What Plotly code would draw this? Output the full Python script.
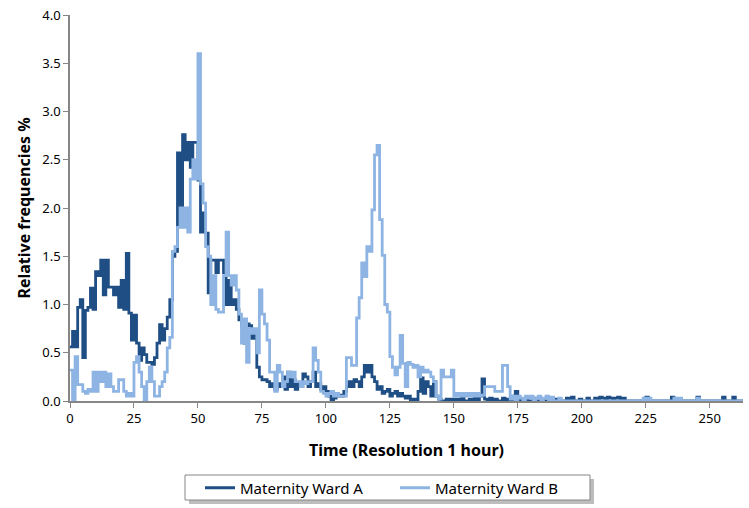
import plotly.graph_objects as go

hours = list(range(264))

ward_a = [
    0.56, 0.72, 0.56, 0.97, 1.05, 0.45, 0.94, 0.97, 1.17, 0.95,
    1.34, 1.30, 1.46, 1.10, 1.46, 1.18, 1.18, 1.10, 1.18, 0.97,
    1.25, 0.95, 1.53, 0.91, 0.63, 0.89, 0.60, 0.42, 0.55, 0.48,
    0.40, 0.40, 0.38, 0.45, 0.60, 0.79, 0.63, 0.75, 0.87, 1.05,
    1.50, 1.55, 2.57, 1.84, 2.76, 2.50, 2.68, 2.42, 2.68, 2.68,
    2.29, 1.75, 1.95, 1.74, 1.12, 1.46, 1.46, 1.33, 1.46, 1.46,
    1.33, 1.00, 1.25, 1.00, 1.05, 0.95, 0.84, 0.78, 0.60, 0.80,
    0.78, 0.65, 0.70, 0.35, 0.25, 0.22, 0.22, 0.20, 0.15, 0.18,
    0.12, 0.18, 0.15, 0.25, 0.12, 0.30, 0.15, 0.22, 0.12, 0.18,
    0.15, 0.28, 0.25, 0.15, 0.20, 0.30, 0.15, 0.18, 0.12, 0.15,
    0.10, 0.05, 0.00, 0.03, 0.05, 0.06, 0.05, 0.10, 0.15, 0.20,
    0.15, 0.22, 0.20, 0.15, 0.25, 0.37, 0.30, 0.37, 0.25, 0.20,
    0.12, 0.15, 0.08, 0.10, 0.12, 0.05, 0.08, 0.10, 0.05, 0.08,
    0.05, 0.03, 0.05, 0.00, 0.02, 0.00, 0.10, 0.24, 0.08, 0.20,
    0.15, 0.05, 0.20, 0.05, 0.02, 0.00, 0.00, 0.02, 0.00, 0.02,
    0.00, 0.02, 0.00, 0.03, 0.00, 0.00, 0.02, 0.00, 0.03, 0.00,
    0.05, 0.23, 0.02, 0.00, 0.03, 0.00, 0.02, 0.00, 0.00, 0.03,
    0.00, 0.02, 0.00, 0.05, 0.10, 0.02, 0.00, 0.00, 0.02, 0.00,
    0.00, 0.03, 0.00, 0.00, 0.02, 0.00, 0.00, 0.03, 0.00, 0.00,
    0.02, 0.00, 0.00, 0.00, 0.03, 0.00, 0.04, 0.00, 0.00, 0.02,
    0.00, 0.00, 0.03, 0.00, 0.00, 0.03, 0.00, 0.04, 0.03, 0.00,
    0.04, 0.03, 0.00, 0.03, 0.04, 0.00, 0.03, 0.00, 0.00, 0.00,
    0.00, 0.00, 0.00, 0.00, 0.00, 0.04, 0.00, 0.00, 0.00, 0.00,
    0.00, 0.00, 0.00, 0.00, 0.00, 0.04, 0.00, 0.00, 0.00, 0.00,
    0.00, 0.00, 0.00, 0.00, 0.00, 0.04, 0.00, 0.00, 0.00, 0.00,
    0.00, 0.00, 0.00, 0.00, 0.00, 0.04, 0.00, 0.00, 0.00, 0.04,
    0.00, 0.00, 0.00, 0.00,
]

ward_b = [
    0.32, 0.00, 0.46, 0.17, 0.17, 0.10, 0.08, 0.12, 0.10, 0.30,
    0.10, 0.30, 0.20, 0.30, 0.15, 0.28, 0.15, 0.10, 0.10, 0.22,
    0.22, 0.10, 0.05, 0.08, 0.05, 0.40, 0.46, 0.30, 0.15, 0.00,
    0.20, 0.35, 0.20, 0.05, 0.05, 0.15, 0.20, 0.30, 0.55, 0.66,
    1.55, 1.60, 1.80, 2.00, 1.80, 2.00, 1.75, 2.30, 2.50, 2.30,
    3.60, 2.25, 2.05, 1.60, 1.50, 1.00, 1.30, 0.95, 0.92, 0.92,
    1.30, 1.75, 1.30, 1.20, 1.30, 1.15, 0.90, 0.60, 0.85, 0.40,
    0.75, 0.70, 0.75, 0.50, 1.15, 0.90, 0.80, 0.63, 0.30, 0.30,
    0.10, 0.37, 0.30, 0.15, 0.20, 0.30, 0.25, 0.30, 0.20, 0.20,
    0.15, 0.20, 0.18, 0.20, 0.20, 0.55, 0.42, 0.30, 0.10, 0.08,
    0.05, 0.08, 0.10, 0.05, 0.08, 0.05, 0.05, 0.05, 0.45, 0.45,
    0.37, 0.37, 0.86, 1.07, 1.43, 1.29, 1.60, 1.55, 1.98, 2.55,
    2.65, 1.88, 1.51, 1.00, 0.92, 0.46, 0.35, 0.27, 0.35, 0.68,
    0.39, 0.15, 0.40, 0.38, 0.35, 0.37, 0.25, 0.35, 0.30, 0.32,
    0.30, 0.25, 0.20, 0.05, 0.02, 0.32, 0.25, 0.25, 0.25, 0.32,
    0.05, 0.08, 0.05, 0.08, 0.05, 0.08, 0.05, 0.08, 0.05, 0.08,
    0.05, 0.06, 0.15, 0.15, 0.15, 0.15, 0.10, 0.10, 0.10, 0.37,
    0.37, 0.15, 0.02, 0.05, 0.00, 0.05, 0.03, 0.00, 0.05, 0.03,
    0.05, 0.00, 0.03, 0.05, 0.00, 0.03, 0.05, 0.00, 0.04, 0.00,
    0.00, 0.03, 0.00, 0.00, 0.00, 0.00, 0.00, 0.00, 0.00, 0.00,
    0.00, 0.00, 0.00, 0.00, 0.00, 0.00, 0.00, 0.00, 0.00, 0.00,
    0.00, 0.00, 0.00, 0.00, 0.00, 0.00, 0.00, 0.00, 0.00, 0.00,
    0.00, 0.00, 0.00, 0.00, 0.03, 0.00, 0.03, 0.00, 0.00, 0.00,
    0.00, 0.00, 0.00, 0.00, 0.00, 0.00, 0.03, 0.00, 0.03, 0.00,
    0.00, 0.00, 0.00, 0.00, 0.00, 0.03, 0.00, 0.00, 0.00, 0.00,
    0.00, 0.00, 0.00, 0.00, 0.00, 0.00, 0.00, 0.00, 0.00, 0.00,
    0.00, 0.00, 0.00, 0.00,
]

x_ticks = [0, 25, 50, 75, 100, 125, 150, 175, 200, 225, 250]
y_ticks = [0.0, 0.5, 1.0, 1.5, 2.0, 2.5, 3.0, 3.5, 4.0]

FONT = "Noto Sans"
AXIS_GRAY = "#868686"

# plot area in pixels: x 70..743, y 15..401
PX_L, PX_W, PX_B, PX_H = 70, 673, 401, 386


def px_x(p):
    return (p - PX_L) / PX_W


def px_y(p):
    return (PX_B - p) / PX_H


fig = go.Figure()
fig.add_trace(go.Scatter(
    x=hours[:len(ward_a)], y=ward_a, mode="lines", line_shape="hv",
    name="Maternity Ward A", line=dict(color="#1F4E85", width=2.8),
))
fig.add_trace(go.Scatter(
    x=hours[:len(ward_b)], y=ward_b, mode="lines", line_shape="hv",
    name="Maternity Ward B", line=dict(color="#8DB4E2", width=2.8),
))

# legend shadow and frame
fig.add_shape(type="rect", xref="paper", yref="paper",
              x0=px_x(189), x1=px_x(594), y0=px_y(504), y1=px_y(479),
              fillcolor="#BDBDBD", line=dict(width=0), layer="below")
fig.add_shape(type="rect", xref="paper", yref="paper",
              x0=px_x(185), x1=px_x(590), y0=px_y(500), y1=px_y(475),
              fillcolor="white", line=dict(color=AXIS_GRAY, width=1),
              layer="below")

fig.update_layout(
    width=749, height=508,
    margin=dict(l=70, r=6, t=15, b=107, autoexpand=False),
    paper_bgcolor="white", plot_bgcolor="white",
    font=dict(family=FONT, size=13, color="#000000"),
    showlegend=True,
    legend=dict(
        orientation="h", xref="container", yref="container",
        x=200 / 749, xanchor="left", y=1 - 488 / 508, yanchor="middle",
        bgcolor="rgba(0,0,0,0)", borderwidth=0,
        font=dict(family=FONT, size=15, color="#000000"),
        itemwidth=30, entrywidth=150, entrywidthmode="pixels",
        tracegroupgap=0,
    ),
    xaxis=dict(
        range=[0, 263], tickmode="array", tickvals=x_ticks,
        ticktext=[str(v) for v in x_ticks],
        showgrid=False, zeroline=False, showline=True,
        linecolor=AXIS_GRAY, linewidth=1.5, ticks="outside", ticklen=5,
        tickcolor=AXIS_GRAY, tickfont=dict(size=13),
        title=dict(text="<b>Time (Resolution 1 hour)</b>",
                   font=dict(size=16), standoff=18),
    ),
    yaxis=dict(
        range=[0, 4.0], tickmode="array", tickvals=y_ticks,
        ticktext=[f"{v:.1f}" for v in y_ticks],
        showgrid=False, zeroline=False, showline=True,
        linecolor=AXIS_GRAY, linewidth=1.5, ticks="outside", ticklen=5,
        tickcolor=AXIS_GRAY, tickfont=dict(size=13),
        title=dict(text="<b>Relative frequencies %</b>",
                   font=dict(size=16), standoff=8),
    ),
)

fig.write_html("out.html")
